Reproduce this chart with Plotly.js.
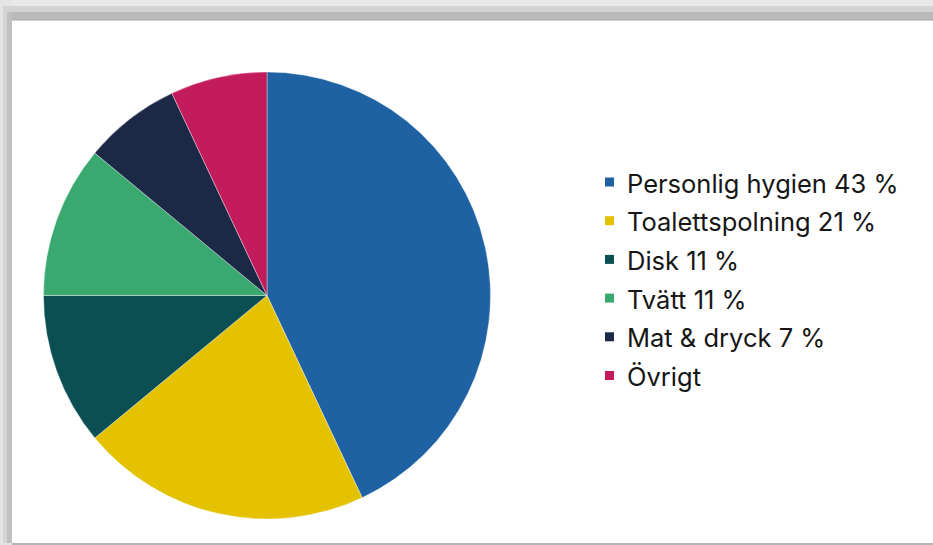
<!DOCTYPE html>
<html>
<head>
<meta charset="utf-8">
<script src="https://cdn.plot.ly/plotly-3.0.1.min.js"></script>
<style>
html,body{margin:0;padding:0;background:#fff;}
#chart{width:933px;height:545px;}
</style>
</head>
<body>
<div id="chart"></div>
<script>
// Data
var categories = ["Personlig hygien", "Toalettspolning", "Disk", "Tvätt", "Mat & dryck", "Övrigt"];
var shares = [43, 21, 11, 11, 7, 7];
var legendLabels = ["Personlig hygien 43 %", "Toalettspolning 21 %", "Disk 11 %", "Tvätt 11 %", "Mat & dryck 7 %", "Övrigt"];
var colors = ["#1f62a3", "#e4c200", "#0b4f52", "#3aa96f", "#1b2947", "#c31c5d"];

var W = 933, H = 545;
function px(x){ return x / W; }
function py(y){ return 1 - y / H; }

var trace = {
  type: "pie",
  labels: categories,
  values: shares,
  sort: false,
  direction: "clockwise",
  rotation: 0,
  textinfo: "none",
  hoverinfo: "label+percent",
  showlegend: false,
  marker: { colors: colors, line: { color: "rgba(255,255,255,0.45)", width: 0.8 } },
  domain: { x: [px(43), px(491)], y: [py(519), py(72)] }
};

var shapes = [
  // frame
  { type: "rect", xref: "paper", yref: "paper", x0: 0, x1: 1, y0: py(20), y1: 1, fillcolor: "#e8e8e8", line: { width: 0 }, layer: "below" },
  { type: "rect", xref: "paper", yref: "paper", x0: px(4), x1: 1, y0: py(20), y1: py(6), fillcolor: "#d3d3d3", line: { width: 0 }, layer: "below" },
  { type: "rect", xref: "paper", yref: "paper", x0: px(8), x1: 1, y0: py(20), y1: py(12), fillcolor: "#bababa", line: { width: 0 }, layer: "below" },
  { type: "rect", xref: "paper", yref: "paper", x0: 0, x1: px(12), y0: 0, y1: 1, fillcolor: "#e4e4e4", line: { width: 0 }, layer: "below" },
  { type: "rect", xref: "paper", yref: "paper", x0: px(3), x1: px(12), y0: py(543), y1: py(6), fillcolor: "#d4d4d4", line: { width: 0 }, layer: "below" },
  { type: "rect", xref: "paper", yref: "paper", x0: px(7), x1: px(12), y0: py(543), y1: py(12), fillcolor: "#c0c0c0", line: { width: 0 }, layer: "below" },
  { type: "rect", xref: "paper", yref: "paper", x0: px(12), x1: 1, y0: py(545), y1: py(543), fillcolor: "#b5b5b5", line: { width: 0 }, layer: "below" },
  { type: "line", xref: "paper", yref: "paper", x0: px(12), x1: 1, y0: py(20), y1: py(20), line: { color: "#a8a8a8", width: 1 }, layer: "below" }
];

var annotations = [];
var rowStart = 182, rowGap = 38.7;
for (var i = 0; i < legendLabels.length; i++) {
  var yc = rowStart + i * rowGap;
  shapes.push({ type: "rect", xref: "paper", yref: "paper",
    x0: px(605), x1: px(614), y0: py(yc + 4.5), y1: py(yc - 4.5),
    fillcolor: colors[i], line: { width: 0 } });
  annotations.push({ xref: "paper", yref: "paper", x: px(625), y: py(yc + 1),
    xanchor: "left", yanchor: "middle", showarrow: false, text: legendLabels[i],
    font: { family: "Inter, Arial, sans-serif", size: 25.5, color: "#161616" } });
}

var layout = {
  width: W, height: H,
  margin: { l: 0, r: 0, t: 0, b: 0 },
  paper_bgcolor: "#ffffff",
  plot_bgcolor: "#ffffff",
  showlegend: false,
  shapes: shapes,
  annotations: annotations
};

Plotly.newPlot("chart", [trace], layout, { displayModeBar: false, staticPlot: true });
</script>
</body>
</html>
